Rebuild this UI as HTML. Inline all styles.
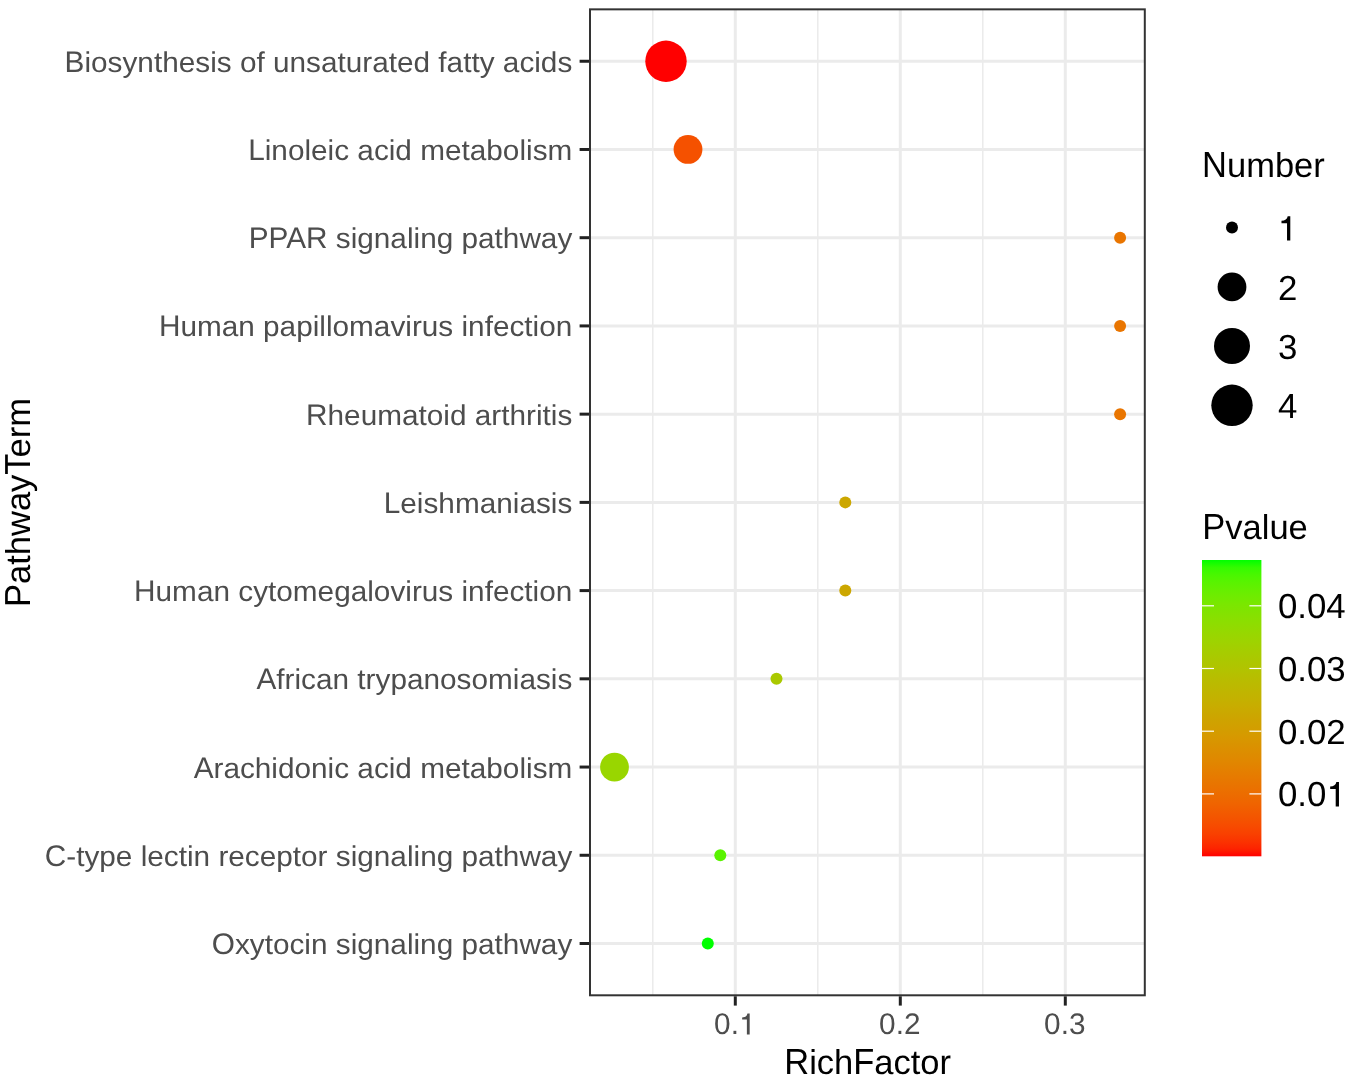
<!DOCTYPE html>
<html><head><meta charset="utf-8"><style>
html,body{margin:0;padding:0;background:#fff;width:1351px;height:1079px;overflow:hidden;}
svg{display:block;font-family:"Liberation Sans",sans-serif;will-change:transform;text-rendering:geometricPrecision;}
</style></head><body>
<svg width="1351" height="1079" viewBox="0 0 1351 1079"><rect width="1351" height="1079" fill="#fff"/><line x1="652.80" y1="9.35" x2="652.80" y2="995.3" stroke="#ebebeb" stroke-width="1.5"/><line x1="817.80" y1="9.35" x2="817.80" y2="995.3" stroke="#ebebeb" stroke-width="1.5"/><line x1="982.80" y1="9.35" x2="982.80" y2="995.3" stroke="#ebebeb" stroke-width="1.5"/><line x1="735.30" y1="9.35" x2="735.30" y2="995.3" stroke="#ebebeb" stroke-width="3"/><line x1="900.30" y1="9.35" x2="900.30" y2="995.3" stroke="#ebebeb" stroke-width="3"/><line x1="1065.30" y1="9.35" x2="1065.30" y2="995.3" stroke="#ebebeb" stroke-width="3"/><line x1="590.0" y1="61.25" x2="1144.8" y2="61.25" stroke="#ebebeb" stroke-width="3"/><line x1="590.0" y1="149.47" x2="1144.8" y2="149.47" stroke="#ebebeb" stroke-width="3"/><line x1="590.0" y1="237.70" x2="1144.8" y2="237.70" stroke="#ebebeb" stroke-width="3"/><line x1="590.0" y1="325.92" x2="1144.8" y2="325.92" stroke="#ebebeb" stroke-width="3"/><line x1="590.0" y1="414.15" x2="1144.8" y2="414.15" stroke="#ebebeb" stroke-width="3"/><line x1="590.0" y1="502.38" x2="1144.8" y2="502.38" stroke="#ebebeb" stroke-width="3"/><line x1="590.0" y1="590.60" x2="1144.8" y2="590.60" stroke="#ebebeb" stroke-width="3"/><line x1="590.0" y1="678.82" x2="1144.8" y2="678.82" stroke="#ebebeb" stroke-width="3"/><line x1="590.0" y1="767.05" x2="1144.8" y2="767.05" stroke="#ebebeb" stroke-width="3"/><line x1="590.0" y1="855.27" x2="1144.8" y2="855.27" stroke="#ebebeb" stroke-width="3"/><line x1="590.0" y1="943.50" x2="1144.8" y2="943.50" stroke="#ebebeb" stroke-width="3"/><circle cx="666.0" cy="61.25" r="20.7" fill="#ff0000"/><circle cx="688.0" cy="149.47" r="14.4" fill="#f55100"/><circle cx="1120.1" cy="237.70" r="6.0" fill="#e97500"/><circle cx="1120.1" cy="325.92" r="6.0" fill="#e97500"/><circle cx="1120.1" cy="414.15" r="6.0" fill="#e97500"/><circle cx="845.3" cy="502.38" r="6.0" fill="#cca700"/><circle cx="845.3" cy="590.60" r="6.0" fill="#cca700"/><circle cx="776.5" cy="678.82" r="6.0" fill="#aac900"/><circle cx="614.5" cy="767.05" r="14.4" fill="#99d600"/><circle cx="720.3" cy="855.27" r="6.0" fill="#59f300"/><circle cx="707.8" cy="943.50" r="6.0" fill="#00ff00"/><rect x="590.0" y="9.35" width="554.80" height="985.95" fill="none" stroke="#333333" stroke-width="2"/><line x1="579.6" y1="61.25" x2="589.0" y2="61.25" stroke="#222222" stroke-width="3"/><line x1="579.6" y1="149.47" x2="589.0" y2="149.47" stroke="#222222" stroke-width="3"/><line x1="579.6" y1="237.70" x2="589.0" y2="237.70" stroke="#222222" stroke-width="3"/><line x1="579.6" y1="325.92" x2="589.0" y2="325.92" stroke="#222222" stroke-width="3"/><line x1="579.6" y1="414.15" x2="589.0" y2="414.15" stroke="#222222" stroke-width="3"/><line x1="579.6" y1="502.38" x2="589.0" y2="502.38" stroke="#222222" stroke-width="3"/><line x1="579.6" y1="590.60" x2="589.0" y2="590.60" stroke="#222222" stroke-width="3"/><line x1="579.6" y1="678.82" x2="589.0" y2="678.82" stroke="#222222" stroke-width="3"/><line x1="579.6" y1="767.05" x2="589.0" y2="767.05" stroke="#222222" stroke-width="3"/><line x1="579.6" y1="855.27" x2="589.0" y2="855.27" stroke="#222222" stroke-width="3"/><line x1="579.6" y1="943.50" x2="589.0" y2="943.50" stroke="#222222" stroke-width="3"/><line x1="735.30" y1="996.3" x2="735.30" y2="1005.6" stroke="#222222" stroke-width="3"/><line x1="900.30" y1="996.3" x2="900.30" y2="1005.6" stroke="#222222" stroke-width="3"/><line x1="1065.30" y1="996.3" x2="1065.30" y2="1005.6" stroke="#222222" stroke-width="3"/><g font-family="Liberation Sans"><text transform="translate(0,71.75) scale(1,0.96)" y="0" x="84.44 91.05 107.60 122.47 137.35 153.89 162.16 178.71 195.25 210.13 216.74 239.88 256.42 272.96 289.50 306.05 320.92 337.47 345.74 362.28 372.19 388.74 397.00 413.55 438.35 446.61 463.16 471.42 479.69 502.83 519.38 534.25 540.86 557.41" font-size="29.75" fill="#4d4d4d">iosynthesisofunsaturatedfattyacids</text><text transform="translate(64.61,71.75) scale(1,1.0)" font-size="29.75" fill="#4d4d4d">B</text><text transform="translate(0,159.97) scale(1,0.96)" y="0" x="264.72 271.33 287.88 304.42 311.03 327.58 334.19 357.33 373.88 388.75 395.36 420.17 444.96 461.50 469.77 486.32 502.86 519.41 526.02 532.63 547.50" font-size="29.75" fill="#4d4d4d">inoleicacidmetabolism</text><text transform="translate(248.19,159.97) scale(1,1.0)" font-size="29.75" fill="#4d4d4d">L</text><text transform="translate(0,248.20) scale(1,0.96)" y="0" x="335.78 350.66 357.27 373.82 390.36 406.91 413.52 420.13 436.67 461.49 478.03 494.57 502.83 519.38 540.86 557.41" font-size="29.75" fill="#4d4d4d">signalingpathway</text><text transform="translate(248.72,248.20) scale(1,1.0)" font-size="29.75" fill="#4d4d4d">P</text><text transform="translate(268.55,248.20) scale(1,1.0)" font-size="29.75" fill="#4d4d4d">P</text><text transform="translate(286.19,248.20) scale(1,1.0)" font-size="29.75" fill="#4d4d4d">A</text><text transform="translate(306.03,248.20) scale(1,1.0)" font-size="29.75" fill="#4d4d4d">R</text><text transform="translate(0,336.42) scale(1,0.96)" y="0" x="180.38 196.91 221.69 238.24 263.05 279.60 296.14 312.69 319.30 325.91 332.52 349.07 373.85 390.39 405.27 411.88 421.78 438.33 461.47 468.08 484.63 492.89 509.44 524.32 532.58 539.19 555.74" font-size="29.75" fill="#4d4d4d">umanpapillomavirusinfection</text><text transform="translate(158.89,336.42) scale(1,1.0)" font-size="29.75" fill="#4d4d4d">H</text><text transform="translate(0,424.65) scale(1,0.96)" y="0" x="327.57 344.10 360.64 377.19 401.97 418.52 426.78 443.33 449.94 474.75 491.30 501.21 509.47 526.02 535.92 542.53 550.80 557.41" font-size="29.75" fill="#4d4d4d">heumatoidarthritis</text><text transform="translate(306.08,424.65) scale(1,1.0)" font-size="29.75" fill="#4d4d4d">R</text><text transform="translate(0,512.88) scale(1,0.96)" y="0" x="400.32 416.86 423.47 438.35 454.89 479.67 496.22 512.77 519.38 535.92 550.80 557.41" font-size="29.75" fill="#4d4d4d">eishmaniasis</text><text transform="translate(383.78,512.88) scale(1,1.0)" font-size="29.75" fill="#4d4d4d">L</text><text transform="translate(0,601.10) scale(1,0.96)" y="0" x="155.58 172.11 196.89 213.44 238.25 253.13 268.00 276.27 292.82 317.60 334.14 350.69 367.24 373.85 390.39 405.27 411.88 421.78 438.33 461.47 468.08 484.63 492.89 509.44 524.32 532.58 539.19 555.74" font-size="29.75" fill="#4d4d4d">umancytomegalovirusinfection</text><text transform="translate(134.10,601.10) scale(1,1.0)" font-size="29.75" fill="#4d4d4d">H</text><text transform="translate(0,689.32) scale(1,0.96)" y="0" x="276.32 284.58 294.49 301.11 315.99 332.52 357.33 365.60 375.50 390.38 406.92 423.47 440.02 456.57 471.44 487.99 512.77 519.38 535.92 550.80 557.41" font-size="29.75" fill="#4d4d4d">fricantrypanosomiasis</text><text transform="translate(256.49,689.32) scale(1,1.0)" font-size="29.75" fill="#4d4d4d">A</text><text transform="translate(0,777.55) scale(1,0.96)" y="0" x="213.46 223.38 239.91 254.78 271.33 277.94 294.49 311.03 327.58 334.19 357.33 373.88 388.75 395.36 420.17 444.96 461.50 469.77 486.32 502.86 519.41 526.02 532.63 547.50" font-size="29.75" fill="#4d4d4d">rachidonicacidmetabolism</text><text transform="translate(193.63,777.55) scale(1,1.0)" font-size="29.75" fill="#4d4d4d">A</text><text transform="translate(0,865.77) scale(1,0.96)" y="0" x="66.27 76.17 84.44 99.32 115.85 140.66 147.27 163.82 178.69 186.96 193.57 218.38 228.28 244.83 259.71 276.25 292.80 301.07 317.61 335.78 350.66 357.27 373.82 390.36 406.91 413.52 420.13 436.67 461.49 478.02 494.57 502.83 519.38 540.86 557.41" font-size="29.75" fill="#4d4d4d">-typelectinreceptorsignalingpathway</text><text transform="translate(44.78,865.77) scale(1,1.0)" font-size="29.75" fill="#4d4d4d">C</text><text transform="translate(0,954.00) scale(1,0.96)" y="0" x="234.91 249.78 264.66 272.92 289.47 304.35 310.96 335.77 350.64 357.25 373.80 390.35 406.89 413.50 420.11 436.66 461.47 478.02 494.57 502.83 519.38 540.86 557.41" font-size="29.75" fill="#4d4d4d">xytocinsignalingpathway</text><text transform="translate(211.78,954.00) scale(1,1.0)" font-size="29.75" fill="#4d4d4d">O</text></g><g font-family="Liberation Sans" font-size="29.75" fill="#4d4d4d" text-anchor="middle"><text x="899.80" y="1034.4">0.2</text><text x="1064.80" y="1034.4">0.3</text></g><text x="714.10" y="1034.4" font-family="Liberation Sans" font-size="29.75" fill="#4d4d4d">0.</text><path d="M746.88,1034.40L749.68,1034.40L749.68,1013.49L747.45,1013.49C747.00,1015.90 745.25,1017.44 742.15,1017.44L742.15,1019.53L746.88,1019.53Z" fill="#4d4d4d"/><g font-family="Liberation Sans"><text y="1074.1" x="809.16 816.83 834.08 874.33 893.52 910.77 920.36 939.55" font-size="34.5" fill="#000">ichactor</text><text transform="translate(784.25,1074.10) scale(1,1.05)" font-size="34.5" fill="#000">R</text><text transform="translate(853.27,1074.10) scale(1,1.05)" font-size="34.5" fill="#000">F</text><g transform="translate(29.5,502.5) rotate(-90)"><text y="0" x="-81.50 -62.31 -52.72 -33.53 -8.62 10.56 45.06 64.25 75.73" font-size="34.5" fill="#000">athwayerm</text><text transform="translate(-104.50,0.00) scale(1,1.05)" font-size="34.5" fill="#000">P</text><text transform="translate(27.81,0.00) scale(1,1.05)" font-size="34.5" fill="#000">T</text></g><text y="177" x="1227.01 1246.19 1274.93 1294.12 1313.30" font-size="34.5" fill="#000">umber</text><text transform="translate(1202.10,177.00) scale(1,1.05)" font-size="34.5" fill="#000">N</text><text y="539" x="1225.30 1242.55 1261.74 1269.41 1288.60" font-size="34.5" fill="#000">value</text><text transform="translate(1202.30,539.00) scale(1,1.05)" font-size="34.5" fill="#000">P</text></g><circle cx="1232" cy="227.6" r="6.0" fill="#000"/><circle cx="1232" cy="286.9" r="14.4" fill="#000"/><circle cx="1232" cy="346" r="18.0" fill="#000"/><circle cx="1232" cy="405.3" r="20.7" fill="#000"/><g font-family="Liberation Sans" font-size="34.8" fill="#000"><text x="1278" y="299.9">2</text><text x="1278" y="359.0">3</text><text x="1278" y="418.3">4</text></g><path d="M1287.03,240.60L1290.30,240.60L1290.30,216.14L1287.69,216.14C1287.17,218.95 1285.11,220.76 1281.49,220.76L1281.49,223.20L1287.03,223.20Z" fill="#000"/><defs><linearGradient id="cb" x1="0" y1="0" x2="0" y2="1"><stop offset="0.000" stop-color="#00ff00"/><stop offset="0.025" stop-color="#33fb00"/><stop offset="0.050" stop-color="#49f700"/><stop offset="0.075" stop-color="#59f300"/><stop offset="0.100" stop-color="#65ef00"/><stop offset="0.125" stop-color="#70eb00"/><stop offset="0.150" stop-color="#7ae700"/><stop offset="0.175" stop-color="#82e300"/><stop offset="0.200" stop-color="#8adf00"/><stop offset="0.225" stop-color="#91db00"/><stop offset="0.250" stop-color="#98d700"/><stop offset="0.275" stop-color="#9ed300"/><stop offset="0.300" stop-color="#a4ce00"/><stop offset="0.325" stop-color="#a9ca00"/><stop offset="0.350" stop-color="#aec600"/><stop offset="0.375" stop-color="#b3c200"/><stop offset="0.400" stop-color="#b8bd00"/><stop offset="0.425" stop-color="#bcb900"/><stop offset="0.450" stop-color="#c1b400"/><stop offset="0.475" stop-color="#c5b000"/><stop offset="0.500" stop-color="#c9ab00"/><stop offset="0.525" stop-color="#cca600"/><stop offset="0.550" stop-color="#d0a100"/><stop offset="0.575" stop-color="#d39d00"/><stop offset="0.600" stop-color="#d79800"/><stop offset="0.625" stop-color="#da9200"/><stop offset="0.650" stop-color="#dd8d00"/><stop offset="0.675" stop-color="#e08800"/><stop offset="0.700" stop-color="#e38200"/><stop offset="0.725" stop-color="#e67c00"/><stop offset="0.750" stop-color="#e87600"/><stop offset="0.775" stop-color="#eb7000"/><stop offset="0.800" stop-color="#ed6a00"/><stop offset="0.825" stop-color="#f06300"/><stop offset="0.850" stop-color="#f25b00"/><stop offset="0.875" stop-color="#f45300"/><stop offset="0.900" stop-color="#f74a00"/><stop offset="0.925" stop-color="#f94000"/><stop offset="0.950" stop-color="#fb3300"/><stop offset="0.975" stop-color="#fd2300"/><stop offset="1.000" stop-color="#ff0000"/></linearGradient></defs><rect x="1202.0" y="560.0" width="59.4" height="296.3" fill="url(#cb)"/><line x1="1202.0" y1="793.90" x2="1214.0" y2="793.90" stroke="#fff" stroke-width="1.2"/><line x1="1249.4" y1="793.90" x2="1261.4" y2="793.90" stroke="#fff" stroke-width="1.2"/><line x1="1202.0" y1="731.20" x2="1214.0" y2="731.20" stroke="#fff" stroke-width="1.2"/><line x1="1249.4" y1="731.20" x2="1261.4" y2="731.20" stroke="#fff" stroke-width="1.2"/><line x1="1202.0" y1="668.50" x2="1214.0" y2="668.50" stroke="#fff" stroke-width="1.2"/><line x1="1249.4" y1="668.50" x2="1261.4" y2="668.50" stroke="#fff" stroke-width="1.2"/><line x1="1202.0" y1="605.80" x2="1214.0" y2="605.80" stroke="#fff" stroke-width="1.2"/><line x1="1249.4" y1="605.80" x2="1261.4" y2="605.80" stroke="#fff" stroke-width="1.2"/><g font-family="Liberation Sans" font-size="34.8" fill="#000"><text x="1278" y="743.7">0.02</text><text x="1278" y="681.0">0.03</text><text x="1278" y="618.3">0.04</text><text x="1278" y="806.4">0.0</text></g><path d="M1335.70,806.40L1338.97,806.40L1338.97,781.94L1336.36,781.94C1335.84,784.75 1333.78,786.56 1330.17,786.56L1330.17,789.00L1335.70,789.00Z" fill="#000"/></svg>
</body></html>
